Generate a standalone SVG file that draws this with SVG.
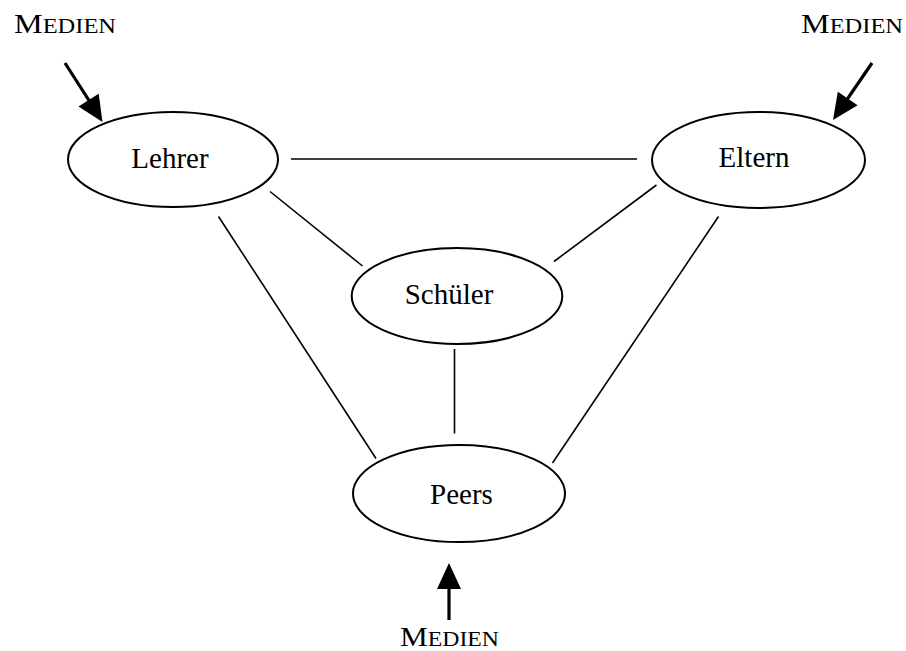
<svg xmlns="http://www.w3.org/2000/svg" width="906" height="651" viewBox="0 0 906 651">
  <style>
    .node ellipse { fill: #ffffff; stroke: #000000; stroke-width: 2; }
    .label { font-family: "Liberation Serif", "Times New Roman", serif; font-size: 29px; fill: #000000; text-anchor: middle; }
    .link { stroke: #000000; stroke-width: 1.6; fill: none; }
    .media { font-family: "Liberation Serif", "Times New Roman", serif; fill: #000000; }
    .media .cap { font-size: 27px; }
    .media .sc { font-size: 20.5px; }
    .shaft { stroke: #000000; stroke-width: 3.2; fill: none; }
    .head { fill: #000000; stroke: none; }
  </style>

  <!-- relations between the groups -->
  <g id="connectors">
    <line class="link" x1="291" y1="159" x2="637" y2="159"/>
    <line class="link" x1="270" y1="191.5" x2="362.5" y2="266"/>
    <line class="link" x1="656.5" y1="185" x2="554" y2="261.5"/>
    <line class="link" x1="218.5" y1="216.5" x2="376" y2="458.5"/>
    <line class="link" x1="718.5" y1="216.5" x2="552.5" y2="463"/>
    <line class="link" x1="454.5" y1="349" x2="454.5" y2="433.5"/>
  </g>

  <!-- media influence arrows -->
  <g id="media-arrows">
    <line class="shaft" x1="65" y1="63" x2="90" y2="102"/>
    <polygon class="head" points="102.5,122 78.5,106.5 98.7,93.7"/>
    <line class="shaft" x1="872" y1="63" x2="846" y2="101"/>
    <polygon class="head" points="833,120 857.6,105.3 837.8,91.7"/>
    <line class="shaft" x1="449" y1="620" x2="449" y2="586"/>
    <polygon class="head" points="449,563 437,589 461,589"/>
  </g>

  <g id="lehrer" class="node">
    <ellipse cx="173" cy="159.5" rx="105" ry="47.5"/>
    <text class="label" x="170" y="167.5">Lehrer</text>
  </g>

  <g id="eltern" class="node">
    <ellipse cx="758.5" cy="160" rx="106.5" ry="48"/>
    <text class="label" x="754" y="167">Eltern</text>
  </g>

  <g id="schueler" class="node">
    <ellipse cx="457" cy="296" rx="105.3" ry="48"/>
    <text class="label" x="449" y="303.5">Schüler</text>
  </g>

  <g id="peers" class="node">
    <ellipse cx="459" cy="493.5" rx="106" ry="48.5"/>
    <text class="label" x="461.5" y="503.5">Peers</text>
  </g>

  <!-- MEDIEN labels in small caps -->
  <g id="medien-lehrer">
    <text class="media" x="14" y="33" textLength="102" lengthAdjust="spacingAndGlyphs"><tspan class="cap">M</tspan><tspan class="sc">EDIEN</tspan></text>
  </g>
  <g id="medien-eltern">
    <text class="media" x="801" y="33" textLength="102" lengthAdjust="spacingAndGlyphs"><tspan class="cap">M</tspan><tspan class="sc">EDIEN</tspan></text>
  </g>
  <g id="medien-peers">
    <text class="media" x="400" y="646" textLength="99" lengthAdjust="spacingAndGlyphs"><tspan class="cap">M</tspan><tspan class="sc">EDIEN</tspan></text>
  </g>
</svg>
